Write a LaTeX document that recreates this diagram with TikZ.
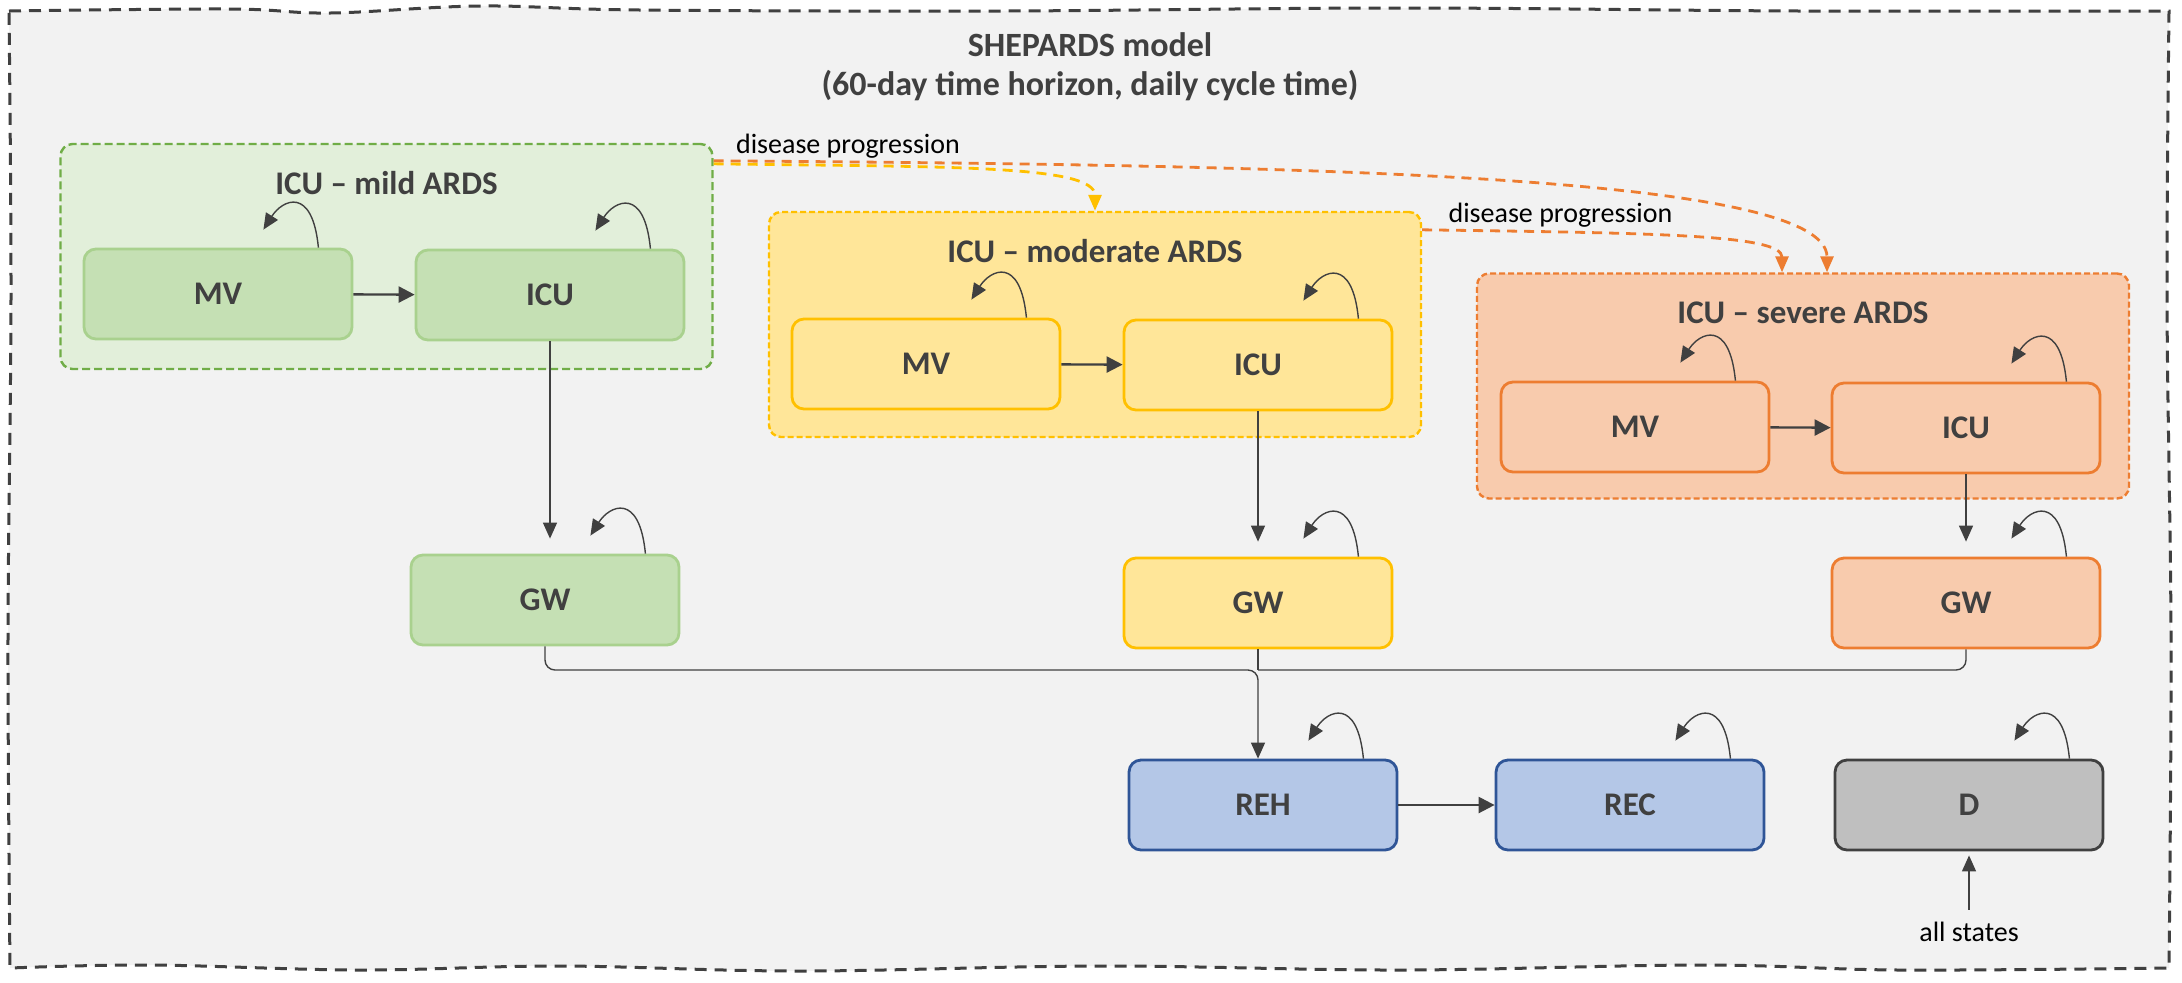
\documentclass[tikz,border=0pt]{standalone}
\usepackage{fontspec}
\setmainfont{Carlito}
\usepackage{tikz}
\usetikzlibrary{positioning, arrows.meta, calc}

\definecolor{txtgray}{HTML}{404040}
\definecolor{framebg}{HTML}{F2F2F2}
\definecolor{mildfill}{HTML}{C5E0B4}
\definecolor{mildline}{HTML}{A9D18E}
\definecolor{mildbg}{HTML}{E2EFDA}
\definecolor{mildgrpline}{HTML}{70AD47}
\definecolor{modfill}{HTML}{FFE699}
\definecolor{modline}{HTML}{FFC000}
\definecolor{sevfill}{HTML}{F8CBAD}
\definecolor{sevline}{HTML}{ED7D31}
\definecolor{recfill}{HTML}{B4C7E7}
\definecolor{recline}{HTML}{2F5597}
\definecolor{deadfill}{HTML}{BFBFBF}

\tikzset{
  statebox/.style={rectangle, rounded corners=6pt, line width=1.4pt, minimum width=134pt, minimum height=45pt, font=\fontsize{16.5}{20}\selectfont\bfseries, text=txtgray},
  grp/.style={rectangle, rounded corners=6pt, line width=1.2pt, minimum width=326pt, minimum height=112.5pt},
  grptitle/.style={font=\fontsize{16.5}{20}\selectfont\bfseries, text=txtgray},
  titletxt/.style={font=\fontsize{17}{21}\selectfont\bfseries, text=txtgray},
  smalltxt/.style={font=\fontsize{14}{17}\selectfont, inner sep=0pt},
  flow/.style={draw=txtgray, line width=1.2pt, -{Triangle[length=8pt,width=8pt]}},
  exitline/.style={draw=txtgray, line width=0.7pt, -{Triangle[length=8pt,width=7pt]}},
  selfloop/.style={draw=txtgray, line width=0.7pt, -{Triangle[length=8pt,width=7pt]}},
  progress/.style={line width=1.4pt, dash pattern=on 5pt off 3.5pt, -{Triangle[length=8pt,width=6.5pt]}},
}

\begin{document}
\begin{tikzpicture}[x=0.5pt, y=-0.5pt]
\useasboundingbox (0,0) rectangle (2182,982);
\fill[white] (0,0) rectangle (2182,982);

% hand-drawn frame
\filldraw[fill=framebg, draw=txtgray, line width=1.5pt, dash pattern=on 6pt off 4pt]
  plot[smooth, tension=0.6] coordinates {(9,11) (230,9) (330,13) (480,6) (640,10) (1000,11) (1400,8) (1800,11) (2169,11)}
  -- plot[smooth, tension=0.6] coordinates {(2169,11) (2167,300) (2171,640) (2169,968)}
  -- plot[smooth, tension=0.6] coordinates {(2169,968) (1900,970) (1700,965) (1400,970) (1100,966) (800,971) (560,966) (360,970) (150,965) (10,968)}
  -- plot[smooth, tension=0.6] coordinates {(10,968) (8,640) (11,300) (9,11)} -- cycle;

\node[titletxt] (title) at (1090,45) {SHEPARDS model};
\node[titletxt] (subtitle) at (1090,86) {(60-day time horizon, daily cycle time)};

% groups
\node[grp, fill=mildbg, draw=mildgrpline, dash pattern=on 4pt off 2pt] (mildgrp) at (386.5,256.5) {};
\node[grp, fill=modfill, draw=modline, dash pattern=on 3pt off 1.5pt] (modgrp) at (1095,324.5) {};
\node[grp, fill=sevfill, draw=sevline, dash pattern=on 3pt off 1.5pt] (sevgrp) at (1803,386) {};
\node[grptitle] (mildT) at ([yshift=-20pt]mildgrp.north) {ICU -- mild ARDS};
\node[grptitle] (modT) at ([yshift=-20pt]modgrp.north) {ICU -- moderate ARDS};
\node[grptitle] (sevT) at ([yshift=-20pt]sevgrp.north) {ICU -- severe ARDS};

% states
\node[statebox, fill=mildfill, draw=mildline] (mildMV) at (218,294) {MV};
\node[statebox, fill=mildfill, draw=mildline] (mildICU) at (550,295) {ICU};
\node[statebox, fill=mildfill, draw=mildline] (mildGW) at (545,600) {GW};
\node[statebox, fill=modfill, draw=modline] (modMV) at (926,364) {MV};
\node[statebox, fill=modfill, draw=modline] (modICU) at (1258,365) {ICU};
\node[statebox, fill=modfill, draw=modline] (modGW) at (1258,603) {GW};
\node[statebox, fill=sevfill, draw=sevline] (sevMV) at (1635,427) {MV};
\node[statebox, fill=sevfill, draw=sevline] (sevICU) at (1966,428) {ICU};
\node[statebox, fill=sevfill, draw=sevline] (sevGW) at (1966,603) {GW};
\node[statebox, fill=recfill, draw=recline] (REH) at (1263,805) {REH};
\node[statebox, fill=recfill, draw=recline] (REC) at (1630,805) {REC};
\node[statebox, fill=deadfill, draw=txtgray] (D) at (1969,805) {D};
\node[smalltxt] (allst) at (1969,932) {all states};

% transitions
\draw[flow] (mildMV) -- (mildICU);
\draw[flow] (modMV) -- (modICU);
\draw[flow] (sevMV) -- (sevICU);
\draw[flow] (REH) -- (REC);
\foreach \sev in {mild,mod,sev}
  \draw[exitline, shorten >=7.5pt] (\sev ICU.south) -- (\sev ICU.south |- \sev GW.north);
\coordinate (bus) at (1258,670);
\draw[exitline, rounded corners=5pt] (mildGW.south) |- (bus) -- (bus |- REH.north);
\draw[txtgray, line width=0.7pt, rounded corners=5pt] (sevGW.south) |- (bus);
\draw[txtgray, line width=0.7pt] (modGW.south) -- (bus);
\draw[exitline, shorten <=6pt, shorten >=2pt] (allst) -- (D);

% self loops
\foreach \n in {mildMV,mildICU,mildGW,modMV,modICU,modGW,sevMV,sevICU,sevGW,REH,REC,D}{
  \coordinate (ls) at ([xshift=-17.5pt]\n.north east);
  \draw[selfloop] (ls) .. controls ($(ls)+(-6,-62)$) and ($(ls)+(-36,-48)$) .. ($(ls)+(-55,-18)$);
}

% disease progression
\draw[progress, draw=sevline] ([yshift=-9pt]mildgrp.north east) .. controls (1300,165) and ([xshift=12pt,yshift=49pt]sevgrp.north) .. ([xshift=12pt]sevgrp.north);
\draw[progress, draw=modline] ([yshift=-10.5pt]mildgrp.north east) .. controls (950,167) and ([yshift=23pt]modgrp.north) .. (modgrp.north);
\draw[progress, draw=sevline] ([yshift=-9.5pt]modgrp.north east) .. controls (1650,233) and ([xshift=-10.5pt,yshift=19pt]sevgrp.north) .. ([xshift=-10.5pt]sevgrp.north);
\node[smalltxt, anchor=west] (prog1) at ([xshift=11pt,yshift=-1.5pt]mildgrp.north east) {disease progression};
\node[smalltxt, anchor=west] (prog2) at ([xshift=13pt,yshift=-2pt]modgrp.north east) {disease progression};
\end{tikzpicture}
\end{document}
